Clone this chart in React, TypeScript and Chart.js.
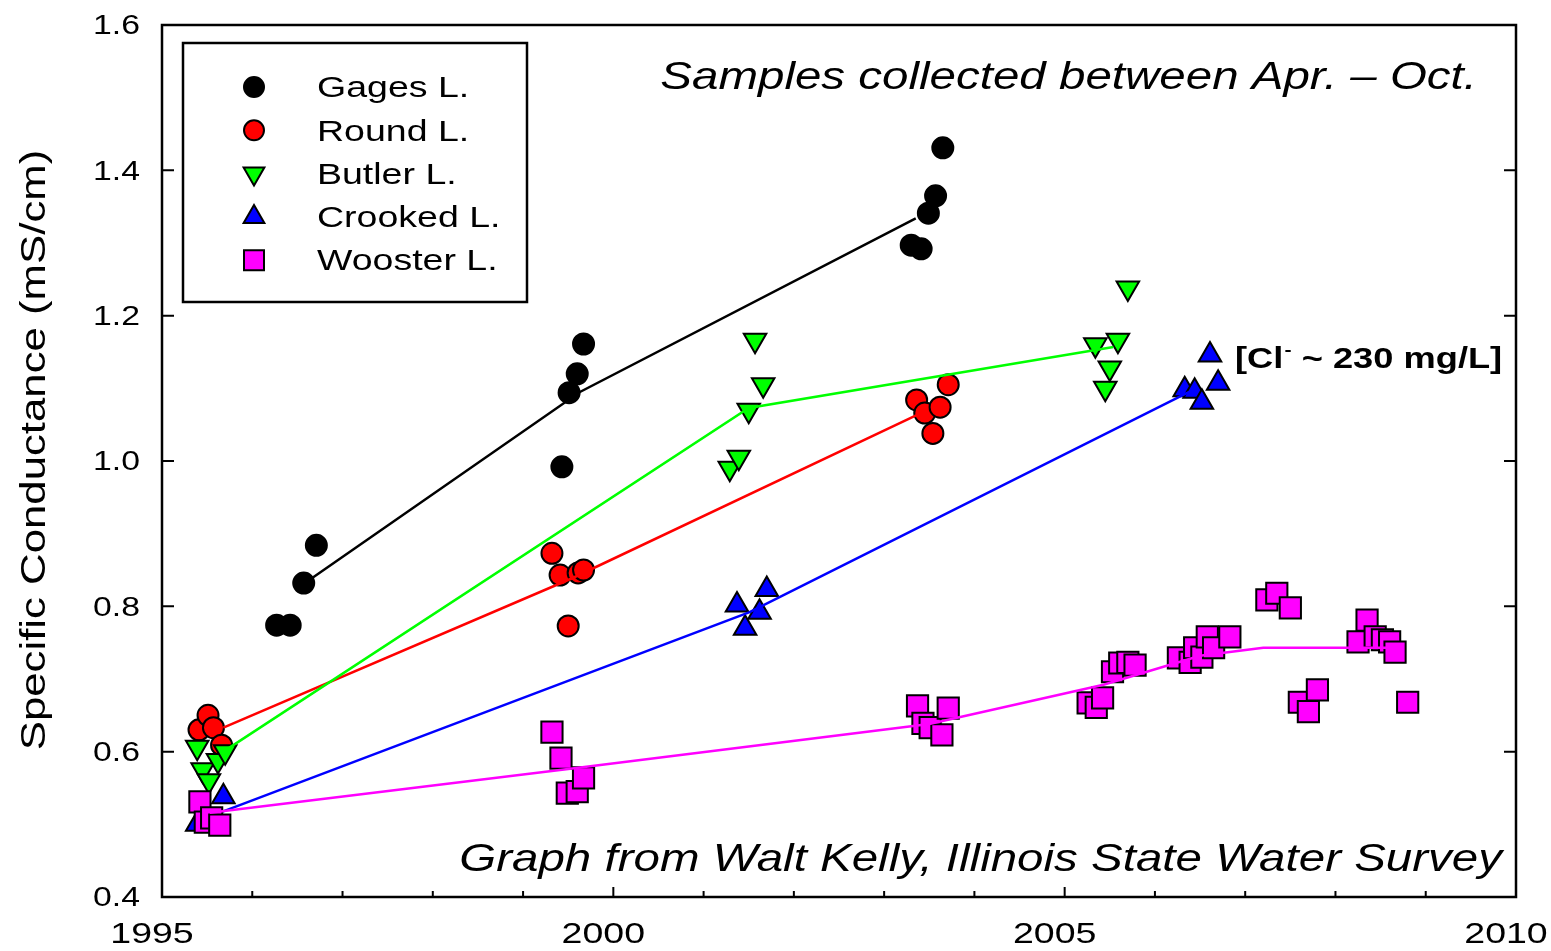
import React, { useEffect, useRef } from "react";
import { Chart, registerables } from "chart.js";

Chart.register(...registerables);

// ---------------- data ----------------
const xTicks = [1995, 2000, 2005, 2010];
const xTickLabels = ["1995", "2000", "2005", "2010"];
const yTicks = [0.4, 0.6, 0.8, 1.0, 1.2, 1.4, 1.6];
const yTickLabels = ["0.4", "0.6", "0.8", "1.0", "1.2", "1.4", "1.6"];

const seriesNames = ["Gages L.", "Round L.", "Butler L.", "Crooked L.", "Wooster L."];

const gagesX = [1996.27, 1996.42, 1996.57, 1996.71, 1999.43, 1999.51, 1999.6, 1999.67, 2003.3, 2003.41, 2003.49, 2003.57, 2003.65];
const gagesY = [0.774, 0.774, 0.832, 0.884, 0.992, 1.094, 1.12, 1.161, 1.297, 1.292, 1.341, 1.365, 1.431];
const gagesTrendX = [1996.5, 1999.63, 2003.35];
const gagesTrendY = [0.825, 1.095, 1.334];

const roundX = [1995.41, 1995.51, 1995.57, 1995.66, 1999.32, 1999.41, 1999.5, 1999.61, 1999.67, 2003.36, 2003.45, 2003.54, 2003.62, 2003.71];
const roundY = [0.63, 0.65, 0.633, 0.609, 0.873, 0.843, 0.773, 0.846, 0.85, 1.084, 1.066, 1.038, 1.074, 1.105];
const roundTrendX = [1995.68, 1999.55, 2003.36];
const roundTrendY = [0.633, 0.839, 1.063];

const butlerX = [1995.39, 1995.45, 1995.52, 1995.62, 1995.7, 2001.29, 2001.39, 2001.5, 2001.57, 2001.66, 2005.34, 2005.45, 2005.5, 2005.59, 2005.7];
const butlerY = [0.606, 0.575, 0.56, 0.588, 0.6, 0.99, 1.005, 1.07, 1.166, 1.105, 1.16, 1.1, 1.128, 1.166, 1.238];
const butlerTrendX = [1995.68, 2001.5, 2005.54];
const butlerTrendY = [0.6, 1.073, 1.157];

const crookedX = [1995.39, 1995.5, 1995.68, 2001.37, 2001.46, 2001.62, 2001.7, 2006.33, 2006.44, 2006.52, 2006.61, 2006.7];
const crookedY = [0.5, 0.505, 0.538, 0.802, 0.77, 0.792, 0.823, 1.098, 1.096, 1.081, 1.146, 1.107];
const crookedTrendX = [1995.51, 2001.51, 2006.38];
const crookedTrendY = [0.51, 0.792, 1.095];

const woosterX = [
  1995.42, 1995.48, 1995.55, 1995.64,
  1999.32, 1999.42, 1999.49, 1999.6, 1999.67,
  2003.37, 2003.43, 2003.51, 2003.64, 2003.71,
  2005.26, 2005.35, 2005.42, 2005.53, 2005.61, 2005.7, 2005.78,
  2006.26, 2006.39, 2006.44, 2006.52, 2006.58, 2006.65, 2006.83,
  2007.24, 2007.35, 2007.5, 2007.6, 2007.7, 2007.8,
  2008.25, 2008.35, 2008.44, 2008.52, 2008.6, 2008.66,
  2008.8,
];
const woosterY = [
  0.531, 0.503, 0.509, 0.499,
  0.627, 0.591, 0.543, 0.545, 0.564,
  0.663, 0.639, 0.633, 0.623, 0.66,
  0.667, 0.661, 0.674, 0.71, 0.722, 0.723, 0.719,
  0.729, 0.723, 0.743, 0.73, 0.758, 0.743, 0.758,
  0.809, 0.818, 0.798, 0.668, 0.655, 0.685,
  0.751, 0.781, 0.758, 0.754, 0.751, 0.737,
  0.668,
];
const woosterTrendX = [1995.53, 1999.5, 2003.5, 2005.43, 2006.5, 2007.2, 2008.6];
const woosterTrendY = [0.516, 0.576, 0.638, 0.692, 0.732, 0.743, 0.743];

const seriesColors = ["#000000", "#ff0000", "#00ff00", "#0000ff", "#ff00ff"];

// ---------------- drawing helpers ----------------
const S = 1.25; // horizontal text stretch seen in the reference
const FONT = '"Liberation Sans", Arial, Helvetica, sans-serif';

function sText(ctx: CanvasRenderingContext2D, text: string, x: number, y: number, align: CanvasTextAlign, font: string, baseline: CanvasTextBaseline = "middle") {
  ctx.save();
  ctx.font = font;
  ctx.textAlign = align;
  ctx.textBaseline = baseline;
  ctx.fillStyle = "#000";
  ctx.translate(x, y);
  ctx.scale(S, 1);
  ctx.fillText(text, 0, 0);
  ctx.restore();
}

function legendMarker(ctx: CanvasRenderingContext2D, kind: string, x: number, y: number, fill: string) {
  ctx.save();
  ctx.beginPath();
  const r = 12;
  if (kind === "circle") {
    ctx.arc(x, y, 10, 0, Math.PI * 2);
  } else if (kind === "up") {
    ctx.moveTo(x, y - r);
    ctx.lineTo(x + r * 0.866, y + r / 2);
    ctx.lineTo(x - r * 0.866, y + r / 2);
    ctx.closePath();
  } else if (kind === "down") {
    ctx.moveTo(x, y + r);
    ctx.lineTo(x + r * 0.866, y - r / 2);
    ctx.lineTo(x - r * 0.866, y - r / 2);
    ctx.closePath();
  } else {
    ctx.rect(x - 10, y - 10, 20, 20);
  }
  ctx.fillStyle = fill;
  ctx.fill();
  ctx.lineWidth = 2;
  ctx.strokeStyle = "#000";
  ctx.stroke();
  ctx.restore();
}

const frameTicks = {
  id: "frameTicks",
  beforeDatasetsDraw(chart: any) {
    const { ctx, chartArea: a, scales } = chart;
    const x = scales.x;
    const y = scales.y;
    ctx.save();
    ctx.strokeStyle = "#000";
    ctx.lineWidth = 2;
    ctx.beginPath();
    for (const t of yTicks) {
      const py = y.getPixelForValue(t);
      ctx.moveTo(a.left, py);
      ctx.lineTo(a.left + 12, py);
      ctx.moveTo(a.right, py);
      ctx.lineTo(a.right - 12, py);
    }
    for (let v = xTicks[0]; v <= xTicks[xTicks.length - 1]; v++) {
      const px = x.getPixelForValue(v);
      const len = v % 5 === 0 ? 10 : 6;
      ctx.moveTo(px, a.bottom);
      ctx.lineTo(px, a.bottom - len);
    }
    ctx.stroke();
    ctx.lineWidth = 2.5;
    ctx.strokeRect(a.left, a.top, a.right - a.left, a.bottom - a.top);
    ctx.restore();
  },
  afterDatasetsDraw(chart: any) {
    const { ctx, chartArea: a, scales } = chart;
    const x = scales.x;
    const y = scales.y;
    // tick labels
    yTicks.forEach((t, i) => {
      sText(ctx, yTickLabels[i], a.left - 22, y.getPixelForValue(t) + 2, "right", `27px ${FONT}`);
    });
    xTicks.forEach((t, i) => {
      const cx = x.getPixelForValue(t) - 10;
      sText(ctx, xTickLabels[i], cx, a.bottom + 38, "center", `30px ${FONT}`);
    });
    // axis title
    ctx.save();
    ctx.translate(35, 450);
    ctx.rotate(-Math.PI / 2);
    ctx.scale(S, 1);
    ctx.font = `35px ${FONT}`;
    ctx.textAlign = "center";
    ctx.textBaseline = "middle";
    ctx.fillStyle = "#000";
    ctx.fillText("Specific Conductance (mS/cm)", 0, 0);
    ctx.restore();

    // legend
    ctx.save();
    ctx.fillStyle = "#fff";
    ctx.fillRect(183, 43, 344, 259);
    ctx.lineWidth = 2.5;
    ctx.strokeStyle = "#000";
    ctx.strokeRect(183, 43, 344, 259);
    ctx.restore();
    const kinds = ["circle", "circle", "down", "up", "square"];
    seriesNames.forEach((name, i) => {
      const cy = 87 + i * 43.3;
      legendMarker(ctx, kinds[i], 254, cy, seriesColors[i]);
      sText(ctx, name, 317, cy + 2, "left", `30px ${FONT}`);
    });

    // annotations
    sText(ctx, "Samples collected between Apr. \u2013 Oct.", 1477, 89, "right", `italic 38px ${FONT}`, "alphabetic");
    sText(ctx, "Graph from Walt Kelly, Illinois State Water Survey", 1502, 871, "right", `italic 38px ${FONT}`, "alphabetic");

    // [Cl- ~ 230 mg/L]
    ctx.save();
    ctx.fillStyle = "#000";
    ctx.textBaseline = "alphabetic";
    ctx.textAlign = "left";
    ctx.translate(1235, 368);
    ctx.scale(S, 1);
    ctx.font = `bold 29px ${FONT}`;
    const p1 = "[Cl";
    ctx.fillText(p1, 0, 0);
    let w = ctx.measureText(p1).width;
    ctx.font = `bold 17px ${FONT}`;
    ctx.fillText("-", w + 1, -13);
    w += ctx.measureText("-").width + 1;
    ctx.font = `bold 29px ${FONT}`;
    ctx.fillText(" ~ 230 mg/L]", w, 0);
    ctx.restore();
  },
};

function pts(xs: number[], ys: number[]) {
  return xs.map((v, i) => ({ x: v, y: ys[i] }));
}

export default function App() {
  const ref = useRef<HTMLCanvasElement | null>(null);
  useEffect(() => {
    if (!ref.current) return;
    const mkScatter = (i: number, xs: number[], ys: number[], style: string, radius: number, rotation: number, order: number) => ({
      label: seriesNames[i],
      data: pts(xs, ys),
      showLine: false,
      pointStyle: style,
      pointRadius: radius,
      pointRotation: rotation,
      pointBackgroundColor: seriesColors[i],
      pointBorderColor: "#000",
      pointBorderWidth: 2,
      backgroundColor: seriesColors[i],
      borderColor: "#000",
      order,
    });
    const mkLine = (i: number, xs: number[], ys: number[], order: number) => ({
      label: seriesNames[i] + " trend",
      data: pts(xs, ys),
      showLine: true,
      pointRadius: 0,
      borderColor: seriesColors[i],
      backgroundColor: seriesColors[i],
      borderWidth: 2.5,
      fill: false,
      tension: 0,
      order,
    });
    const chart = new Chart(ref.current, {
      type: "scatter",
      data: {
        datasets: [
          mkScatter(0, gagesX, gagesY, "circle", 10.5, 0, 10),
          mkLine(0, gagesTrendX, gagesTrendY, 9),
          mkScatter(1, roundX, roundY, "circle", 10.5, 0, 8),
          mkLine(1, roundTrendX, roundTrendY, 7),
          mkScatter(2, butlerX, butlerY, "triangle", 13, 180, 6),
          mkLine(2, butlerTrendX, butlerTrendY, 5),
          mkScatter(3, crookedX, crookedY, "triangle", 13, 0, 4),
          mkLine(3, crookedTrendX, crookedTrendY, 3),
          mkScatter(4, woosterX, woosterY, "rect", 15, 0, 2),
          mkLine(4, woosterTrendX, woosterTrendY, 1),
        ] as any,
      },
      options: {
        animation: false,
        responsive: false,
        events: [],
        layout: { padding: { top: 25, right: 35, left: 0, bottom: 0 } },
        plugins: { legend: { display: false }, tooltip: { enabled: false } },
        scales: {
          x: {
            type: "linear",
            min: xTicks[0],
            max: xTicks[xTicks.length - 1],
            ticks: { display: false, stepSize: 5 },
            grid: { display: false },
            border: { display: false },
            afterFit: (s: any) => { s.height = 54; },
          },
          y: {
            type: "linear",
            min: yTicks[0],
            max: yTicks[yTicks.length - 1],
            ticks: { display: false, stepSize: 0.2 },
            grid: { display: false },
            border: { display: false },
            afterFit: (s: any) => { s.width = 162; },
          },
        },
      } as any,
      plugins: [frameTicks],
    });
    return () => chart.destroy();
  }, []);
  return (
    <div style={{ position: "absolute", left: 0, top: 0, width: 1551, height: 951, background: "#fff" }}>
      <canvas ref={ref} width={1551} height={951} style={{ display: "block" }} />
    </div>
  );
}
